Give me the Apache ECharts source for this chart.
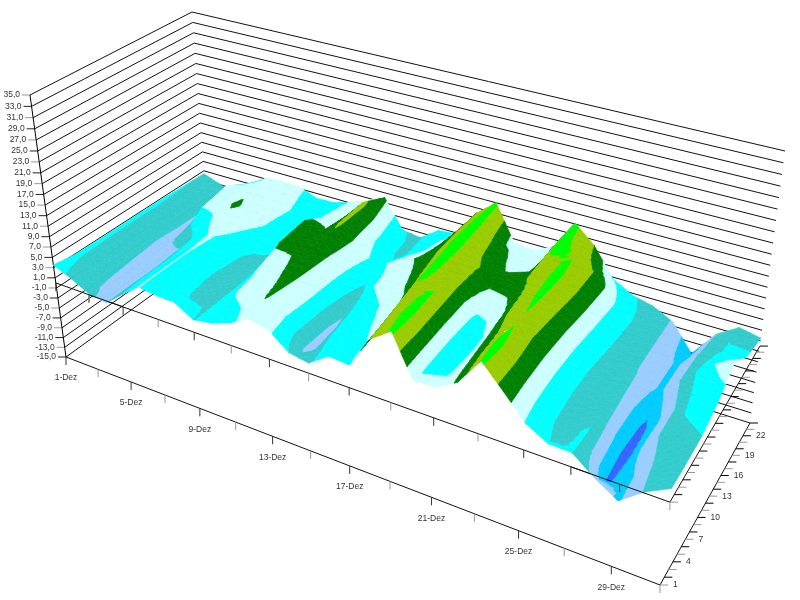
<!DOCTYPE html>
<html><head><meta charset="utf-8">
<style>html,body{margin:0;padding:0;background:#fff}#c{width:800px;height:600px}</style>
<script src="https://cdn.jsdelivr.net/npm/echarts@6/dist/echarts.min.js"></script>
</head><body><div id="c"></div>
<script>
// values: temperature per day (1..31) at selected hours
var hourRows = [1,4,8,12,16,20,24];
var temp_h1  = [3.5,2,.2,-.4,2.4,5.05,4.6,4.5,2.4,3,4.3,6.3,5.5,2.6,1.9,4.5,4.2,10.2,13,5.5,5.6,7.8,13,9,4.8,2.6,2.5,-.5,-3,.2,2.4];
var temp_h4  = [2.9,1.2,-.2,-.4,2.7,5.05,3.4,2,2.2,4.8,5.5,7.7,4.8,-1.2,2.6,4,5,11,13.5,4.5,4.8,8.5,13.5,8.8,4,1.6,2.7,-5.5,-2.8,1,2.3];
var temp_h8  = [2.8,.8,-.4,-.4,2.8,5.05,3.2,1.6,2.2,5.6,6.8,8.4,5.4,-1,4,4.6,6,12.3,12.6,4,4.6,9.5,12.2,8.6,3.5,1.5,1.5,-6.5,-.8,1.8,2.4];
var temp_h12 = [2.8,.6,-.6,0,3.5,5.3,3.8,1.8,2.3,8,7.8,9,5.6,1.2,5,5.6,8.5,13,11.5,4.2,5.4,10.5,13,8.8,3.5,1.5,.5,-5.8,-1.2,3.2,3.8];
var temp_h16 = [2.8,.6,-.4,5,5.5,8,6,4.4,2.4,8.5,7.6,10.3,6.2,4,6,7.6,9.7,13.5,10.5,8.6,8.8,11,13.2,9.4,4,1.6,-.1,-3,.8,4.6,6.5];
var temp_h20 = [2.6,.6,-.4,6,6,6.5,6,4.8,4.2,5.6,6.5,10.6,4.5,1.8,4,6,10,13.5,9,6.5,7.2,13.3,12.2,9.5,4.4,1.7,-.2,-3,.6,2.6,2.8];
var temp_h24 = [2.4,1.1,-.3,3,5.2,5.5,5.4,4,4.1,5.1,6.5,8,2.5,2,4.5,4.8,10,13,6.3,5.9,7.6,13.2,9.9,4.7,2.6,1.7,-.25,-5.2,-.2,2.3,1.5];
var zTicks = [-15,-13,-11,-9,-7,-5,-3,-1,1,3,5,7,9,11,13,15,17,19,21,23,25,27,29,31,33,35];
var zLabels = ['-15,0','-13,0','-11,0','-9,0','-7,0','-5,0','-3,0','-1,0','1,0','3,0','5,0','7,0','9,0','11,0','13,0','15,0','17,0','19,0','21,0','23,0','25,0','27,0','29,0','31,0','33,0','35,0'];
var dayTicks = [1,3,5,7,9,11,13,15,17,19,21,23,25,27,29,31];
var dayLabelDays = [1,5,9,13,17,21,25,29];
var dayLabels = ['1-Dez','5-Dez','9-Dez','13-Dez','17-Dez','21-Dez','25-Dez','29-Dez'];
var hourTicks = [1,2,3,4,5,6,7,8,9,10,11,12,13,14,15,16,17,18,19,20,21,22,23,24];
var hourLabels = [1,4,7,10,13,16,19,22];
var bandEdges = [-30,-5,-2.5,0,2.5,5,7.5,10,12.5,40];
var bandColors = ['#3366ff','#00ccff','#99ccff','#33cccc','#00ffff','#ccffff','#008000','#99cc00','#00ff00'];

var rows = [temp_h1,temp_h4,temp_h8,temp_h12,temp_h16,temp_h20,temp_h24];

// box corners (screen) of the 3D frame: floor and top
var A=[66,357],B=[660,585],C=[750,423],D=[210,253];
var A2=[30,95],B2=[695,292],C2=[785,151],D2=[192,12];
function pers(x,g){return x*(1+g)/(1+g*x);}
function mix(p,q,t){return [p[0]+(q[0]-p[0])*t,p[1]+(q[1]-p[1])*t];}
function project(d,h,z){
  var u=(d-1)/30,v=(h-1)/23,t=(z+15)/50;
  var sf=pers(u,-.2),sb=pers(u,-.17),sv=pers(v,.113),sz=pers(t,-.08);
  var p0=mix(mix(A,B,sf),mix(D,C,sb),sv);
  var p1=mix(mix(A2,B2,sf),mix(D2,C2,sb),sv);
  return mix(p0,p1,sz);
}
var els=[];
function line(pts,color,w){els.push({k:'l',pts:pts,color:color,w:w||1});}
function text(p,s,align){els.push({k:'t',p:p,s:String(s),align:align});}
function poly(pts,color){els.push({k:'p',pts:pts,color:color});}
function shift(p,dx,dy){return [p[0]+dx,p[1]+dy];}

// walls
zTicks.forEach(function(z,i){
  line([project(1,1,z),project(1,24,z),project(31,24,z)],'#111',1);
  var p=project(1,1,z);
  line([shift(p,-8,0),p],i%2?'#999':'#222',1);
  text(shift(p,-10,0),zLabels[i],'right');
});
line([project(1,1,-15),project(1,1,35)],'#000',1);
// floor and zero plane axes
function dayAxis(z){
  line([project(1,1,z),project(31,1,z)],'#111',1);
  dayTicks.forEach(function(d,i){var p=project(d,1,z);line([p,shift(p,0,8)],i%2?'#999':'#333',1);});
}
function hourAxis(z){
  line([project(31,1,z),project(31,24,z)],'#111',1);
  hourTicks.forEach(function(h,i){var p=project(31,h,z);line([p,shift(p,8,0)],i%2?'#000':'#999',1);});
}
dayAxis(-15);hourAxis(-15);dayAxis(0);hourAxis(0);
dayLabelDays.forEach(function(d,i){var p=project(d,1,-15);text(shift(p,0,21),dayLabels[i],'center');});
hourLabels.forEach(function(h){var p=project(31,h,-15);text(shift(p,13,0),h,'left');});

// surface, back to front, cut into colour bands
function clip(pg,lim,keepAbove){
  var out=[];
  for(var i=0;i<pg.length;i++){
    var a=pg[i],b=pg[(i+1)%pg.length];
    var ia=keepAbove?a[2]>=lim:a[2]<=lim, ib=keepAbove?b[2]>=lim:b[2]<=lim;
    if(ia)out.push(a);
    if(ia!==ib){var t=(lim-a[2])/(b[2]-a[2]);out.push([a[0]+(b[0]-a[0])*t,a[1]+(b[1]-a[1])*t,lim]);}
  }
  return out;
}
function tri(t){
  for(var b=0;b<bandColors.length;b++){
    var pg=clip(clip(t,bandEdges[b],true),bandEdges[b+1],false);
    if(pg.length>2)poly(pg.map(function(q){return project(q[0],q[1],q[2]);}),bandColors[b]);
  }
}
var subH=4,subD=2;
for(var d=1;d<31;d++){
  for(var r=rows.length-2;r>=0;r--){
    var h0=hourRows[r],h1=hourRows[r+1];
    var z00=rows[r][d-1],z10=rows[r][d],z01=rows[r+1][d-1],z11=rows[r+1][d];
    for(var jd=0;jd<subD;jd++){
      for(var jh=subH-1;jh>=0;jh--){
        var c=[];
        [[jd,jh],[jd+1,jh],[jd+1,jh+1],[jd,jh+1]].forEach(function(q){
          var a=q[0]/subD,b=q[1]/subH;
          c.push([d+a,h0+(h1-h0)*b,(z00*(1-a)+z10*a)*(1-b)+(z01*(1-a)+z11*a)*b]);
        });
        tri([c[0],c[1],c[2]]);tri([c[0],c[2],c[3]]);
      }
    }
  }
}
// zero-plane axis stays visible where the surface lies under it
for(var i=1;i<31;i++){
  if(temp_h1[i-1]<0||temp_h1[i]<0){
    line([project(i,1,0),project(i+1,1,0)],'#111',1);
    if(i%2==1){var p=project(i,1,0);line([p,shift(p,0,8)],'#555',1);}
  }
}

var chart=echarts.init(document.getElementById('c'),null,{renderer:'canvas'});
chart.setOption({
  animation:false,
  backgroundColor:'#fff',
  grid:{left:0,right:0,top:0,bottom:0},
  xAxis:{type:'value',min:0,max:800,show:false},
  yAxis:{type:'value',min:0,max:600,inverse:true,show:false},
  series:[{
    type:'custom',clip:false,silent:true,progressive:0,
    coordinateSystem:'cartesian2d',
    data:els.map(function(e,i){return [i];}),
    renderItem:function(params,api){
      var e=els[params.dataIndex];
      function cv(p){return api.coord(p);}
      if(e.k==='l')return {type:'polyline',shape:{points:e.pts.map(cv)},style:{stroke:e.color,lineWidth:e.w,fill:null}};
      if(e.k==='p')return {type:'polygon',shape:{points:e.pts.map(cv)},style:{fill:e.color,stroke:e.color,lineWidth:.6}};
      var q=cv(e.p);
      return {type:'text',style:{text:e.s,x:q[0],y:q[1],fill:'#333',font:'8.5px "Liberation Sans"',align:e.align,verticalAlign:'middle'}};
    }
  }]
});
</script></body></html>
